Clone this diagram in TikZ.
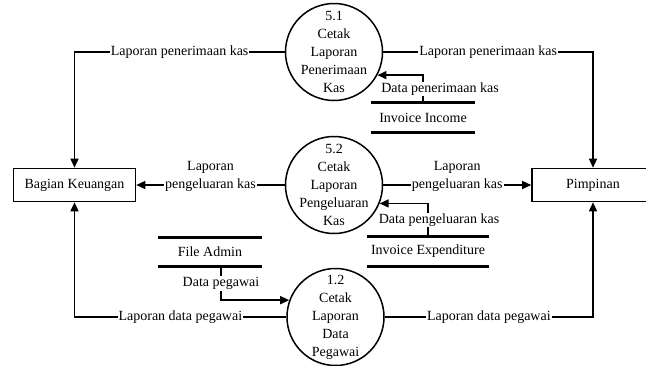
\documentclass[tikz,border=0pt]{standalone}
\usepackage{fontspec}
\setmainfont{Liberation Serif}
\usetikzlibrary{arrows.meta}
\newcommand{\dfdfont}{\fontsize{14}{18}\selectfont}

\begin{document}
\begin{tikzpicture}[x=1pt, y=-1pt]
    \tikzset{
        entity/.style={rectangle, draw, line width=1.6pt, minimum width=122pt, minimum height=33pt, font=\dfdfont},
        process/.style={circle, draw, line width=1.5pt, align=center, minimum size=97pt, inner sep=-10pt, font=\dfdfont},
        store/.style={rectangle, minimum height=29pt, font=\dfdfont},
        storeline/.style={line width=3pt},
        flowlabel/.style={fill=white, inner sep=1pt, align=center, font=\dfdfont},
        flow/.style={draw, line width=1.5pt, -{Triangle[length=9pt, width=8pt]}}
    }
    \useasboundingbox (0,0) rectangle (646,365);

    \node[entity] (keuangan) at (74.5,185) {Bagian Keuangan};
    \node[entity] (pimpinan) at (593,185) {Pimpinan};

    \node[process] (cetak51) at (334,52) {5.1\\Cetak\\Laporan\\Penerimaan\\Kas};
    \node[process] (cetak52) at (334,185) {5.2\\Cetak\\Laporan\\Pengeluaran\\Kas};
    \node[process] (cetak12) at (335.5,317) {1.2\\Cetak\\Laporan\\Data\\Pegawai};

    \node[store, minimum width=104pt] (income) at (423,117.5) {Invoice Income};
    \node[store, minimum width=122pt] (expenditure) at (428,251.5) {Invoice Expenditure};
    \node[store, minimum width=104pt] (admin) at (210,252) {File Admin};

    \foreach \s in {income, expenditure, admin}
        \draw[storeline] (\s.north west) -- (\s.north east) (\s.south west) -- (\s.south east);

    \path[flow] (cetak51.west) -| node[flowlabel, pos=0.25] {Laporan penerimaan kas} (keuangan.north);
    \path[flow] (cetak51.east) -| node[flowlabel, pos=0.25] {Laporan penerimaan kas} (pimpinan.north);
    \path[flow] (cetak52.west) -- node[flowlabel, yshift=9pt] {Laporan\\pengeluaran kas} (keuangan.east);
    \path[flow] (cetak52.east) -- node[flowlabel, yshift=9pt] {Laporan\\pengeluaran kas} (pimpinan.west);
    \path[flow] (cetak12.west) -| node[flowlabel, pos=0.25] {Laporan data pegawai} (keuangan.south);
    \path[flow] (cetak12.east) -| node[flowlabel, pos=0.25] {Laporan data pegawai} (pimpinan.south);
    \path[flow] (income.north) |- node[flowlabel, pos=0.25, xshift=17pt] {Data penerimaan kas} (cetak51.-28);
    \path[flow] (expenditure.north) |- node[flowlabel, pos=0.25, xshift=11pt] {Data pengeluaran kas} (cetak52.-22);
    \path[flow] ([xshift=11pt]admin.south) |- node[flowlabel, pos=0.25] {Data pegawai} (cetak12.160);
\end{tikzpicture}
\end{document}
